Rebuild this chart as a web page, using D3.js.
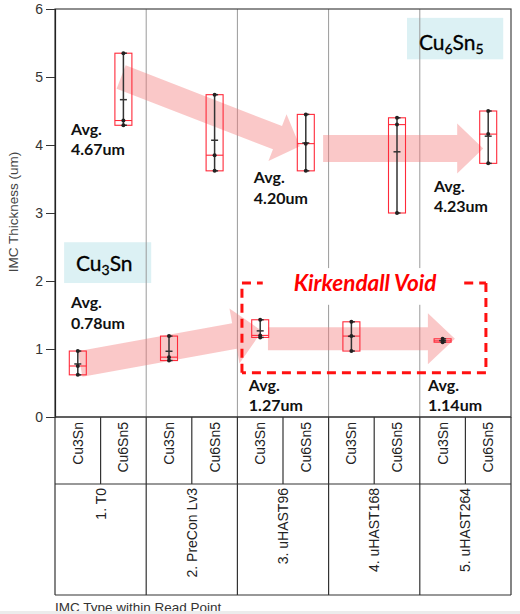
<!DOCTYPE html>
<html><head><meta charset="utf-8">
<script src="https://cdn.jsdelivr.net/npm/d3@7"></script>
<style>html,body{margin:0;padding:0;background:#fff;} svg{display:block}</style>
</head><body><svg id="c" width="520" height="614"></svg>
<script>
// ---------- data ----------
const groups = ["1. T0", "2. PreCon Lv3", "3. uHAST96", "4. uHAST168", "5. uHAST264"];
const types = ["Cu3Sn", "Cu6Sn5"];
const cu3snValues = [
  [0.97, 0.75, 0.62],
  [1.19, 0.88, 0.83],
  [1.43, 1.20, 1.17],
  [1.40, 1.19, 0.97],
  [1.15, 1.12, 1.10]
];
const cu6sn5Values = [
  [5.35, 4.36, 4.29],
  [4.74, 3.85, 3.62],
  [4.45, 4.02, 3.62],
  [4.40, 4.30, 3.00],
  [4.50, 4.16, 3.73]
];
const yTicks = [0, 1, 2, 3, 4, 5, 6];
const avgTexts = ["4.67um", "4.20um", "4.23um", "0.78um", "1.27um", "1.14um"];
const yTitle = "IMC Thickness (um)";
const xTitle = "IMC Type within Read Point";
const voidText = "Kirkendall Void";

// ---------- layout ----------
const L = 55, R = 511, T = 9, B = 417;
const row1 = 484, row2 = 595;
const svg = d3.select("#c");
const x0 = d3.scaleBand().domain(groups).range([L, R]).padding(0);
const x1 = d3.scaleBand().domain(types).range([0, x0.bandwidth()]).padding(0);
const y = d3.scaleLinear().domain([0, 6]).range([B, T]);
const col = d3.scaleLinear().domain([0, 10]).range([L, R]); // sub-column units for annotations

// legend boxes (under grid)
function legend(cx0, cx1, v0, v1) {
  svg.append("rect").attr("x", col(cx0)).attr("y", y(v1))
    .attr("width", col(cx1) - col(cx0)).attr("height", y(v0) - y(v1))
    .attr("fill", "#dcf1f4");
}
legend(0.2, 2.11, 1.97, 2.57);
legend(7.72, 9.83, 5.26, 5.87);

function legendText(px, py, parts) {
  const t = svg.append("text").attr("x", px).attr("y", py)
    .attr("font-family", "Lato, 'Open Sans', sans-serif").attr("font-size", 21).attr("fill", "#000")
    .attr("stroke", "#000").attr("stroke-width", 0.3);
  parts.forEach(p => {
    const s = t.append("tspan").text(p.t);
    if (p.sub) s.attr("font-size", 14).attr("dy", 4);
    else if (p.after) s.attr("dy", -4);
  });
}

// grid lines at group boundaries
const bounds = groups.slice(1).map(g => x0(g));
svg.selectAll(".grid").data(bounds).join("line")
  .attr("x1", d => d).attr("x2", d => d).attr("y1", T).attr("y2", B)
  .attr("stroke", "#9a9a9a").attr("stroke-width", 1);

// frame
svg.append("rect").attr("x", L).attr("y", T).attr("width", R - L).attr("height", B - T)
  .attr("fill", "none").attr("stroke", "#444").attr("stroke-width", 1.2);

// arrows
function arrow(c0, v0, c1, v1, w, hw, hl) {
  const sx = col(c0), sy = y(v0), ex = col(c1), ey = y(v1);
  const dx = ex - sx, dy = ey - sy, len = Math.hypot(dx, dy);
  const ux = dx / len, uy = dy / len, nx = -uy, ny = ux;
  const bx = ex - ux * hl, by = ey - uy * hl;
  const pts = [
    [sx + nx * w / 2, sy + ny * w / 2],
    [bx + nx * w / 2, by + ny * w / 2],
    [bx + nx * hw / 2, by + ny * hw / 2],
    [ex, ey],
    [bx - nx * hw / 2, by - ny * hw / 2],
    [bx - nx * w / 2, by - ny * w / 2],
    [sx - nx * w / 2, sy - ny * w / 2]
  ];
  svg.append("polygon").attr("points", pts.map(p => p.join(",")).join(" "))
    .attr("fill", "#f47c7c").attr("fill-opacity", 0.42);
}
arrow(1.45, 5.0, 5.37, 3.98, 25, 50, 24);
arrow(5.88, 3.95, 9.39, 3.95, 27, 50, 26);
arrow(0.55, 0.78, 4.54, 1.265, 26, 56, 28);
arrow(4.67, 1.15, 8.77, 1.15, 23, 51, 27);

// boxes
const series = [cu3snValues, cu6sn5Values];
const items = [];
groups.forEach((g, i) => types.forEach((t, j) => items.push({ g, t, vals: series[j][i] })));
const bw = 17;
items.forEach(d => {
  const cx = x0(d.g) + x1(d.t) + x1.bandwidth() / 2;
  const s = d.vals.slice().sort(d3.ascending);
  const mn = d3.min(s), mx = d3.max(s), md = d3.median(s), mean = d3.mean(s);
  const gg = svg.append("g");
  gg.append("rect").attr("x", cx - bw / 2).attr("y", y(mx)).attr("width", bw).attr("height", y(mn) - y(mx))
    .attr("fill", "none").attr("stroke", "#ff2a3a").attr("stroke-width", 1.1);
  gg.append("line").attr("x1", cx - bw / 2).attr("x2", cx + bw / 2).attr("y1", y(md)).attr("y2", y(md))
    .attr("stroke", "#ff2a3a").attr("stroke-width", 1.1);
  gg.append("line").attr("x1", cx).attr("x2", cx).attr("y1", y(mx)).attr("y2", y(mn))
    .attr("stroke", "#333").attr("stroke-width", 1.5);
  [mx, mn].forEach(v => gg.append("line").attr("x1", cx - 1).attr("x2", cx + 3.5)
    .attr("y1", y(v)).attr("y2", y(v)).attr("stroke", "#333").attr("stroke-width", 1.5));
  gg.append("line").attr("x1", cx - 3.5).attr("x2", cx + 3.5).attr("y1", y(mean)).attr("y2", y(mean))
    .attr("stroke", "#333").attr("stroke-width", 1.5);
  gg.selectAll("circle").data(s).join("circle").attr("cx", cx).attr("cy", v => y(v)).attr("r", 2)
    .attr("fill", "#222");
});

// Kirkendall annotation
svg.append("rect").attr("x", col(4.6)).attr("y", y(2.19)).attr("width", col(8.93) - col(4.6))
  .attr("height", y(1.65) - y(2.19)).attr("fill", "#fff");
const dx0 = col(4.1), dx1 = col(9.45), dy0 = y(1.97), dy1 = y(0.65);
const dash = { stroke: "#ff1010", w: 3, da: "9,6" };
function dl(x1_, y1_, x2_, y2_) {
  svg.append("line").attr("x1", x1_).attr("y1", y1_).attr("x2", x2_).attr("y2", y2_)
    .attr("stroke", dash.stroke).attr("stroke-width", dash.w).attr("stroke-dasharray", dash.da);
}
dl(dx0, dy0, col(4.6) - 2, dy0);
dl(col(8.93) + 2, dy0, dx1, dy0);
dl(dx1, dy0, dx1, dy1);
dl(dx1, dy1, dx0, dy1);
dl(dx0, dy1, dx0, dy0);
svg.append("text").attr("x", col(6.8)).attr("y", y(1.86)).attr("text-anchor", "middle")
  .attr("font-family", "Lato, 'Open Sans', sans-serif").attr("font-weight", 700).attr("font-style", "italic")
  .attr("font-size", 22.5).attr("fill", "#ff0000").text(voidText);

// legend texts
legendText(col(0.46), y(2.15), [{ t: "Cu" }, { t: "3", sub: true }, { t: "Sn", after: true }]);
legendText(col(7.98), y(5.40), [{ t: "Cu" }, { t: "6", sub: true }, { t: "Sn", after: true }, { t: "5", sub: true }]);

// Avg labels
const avgPos = [[0.35, 4.15], [4.36, 3.44], [8.31, 3.31], [0.35, 1.60], [4.25, 0.385], [8.18, 0.385]];
avgTexts.forEach((t, i) => {
  const tx = svg.append("text").attr("x", col(avgPos[i][0])).attr("y", y(avgPos[i][1]))
    .attr("font-family", "Lato, 'Open Sans', sans-serif").attr("font-weight", 700)
    .attr("font-size", 16).attr("fill", "#111");
  tx.append("tspan").text("Avg.");
  tx.append("tspan").attr("x", col(avgPos[i][0])).attr("dy", 20.5).text(t);
});

// y axis
const yAxis = svg.append("g").attr("transform", `translate(${L},0)`)
  .call(d3.axisLeft(y).tickValues(yTicks).tickFormat(d3.format("d")).tickSize(9).tickPadding(3));
yAxis.select(".domain").attr("stroke", "#222").attr("stroke-width", 1.2);
yAxis.selectAll(".tick line").attr("stroke", "#333");
yAxis.selectAll(".tick text").attr("font-family", "'Liberation Sans', Arial, sans-serif")
  .attr("font-size", 14).attr("fill", "#333");
svg.append("text").attr("transform", `translate(18,${212}) rotate(-90)`).attr("text-anchor", "middle")
  .attr("font-family", "'Liberation Sans', Arial, sans-serif").attr("font-size", 13.5).attr("fill", "#444")
  .text(yTitle);

// x table
const tbl = svg.append("g").attr("stroke", "#333").attr("stroke-width", 1.2);
tbl.append("line").attr("x1", L).attr("x2", R).attr("y1", B).attr("y2", B);
tbl.append("line").attr("x1", L).attr("x2", R).attr("y1", row1).attr("y2", row1);
tbl.append("line").attr("x1", L).attr("x2", R).attr("y1", row2).attr("y2", row2);
[L, ...bounds, R].forEach(bx => tbl.append("line").attr("x1", bx).attr("x2", bx).attr("y1", B).attr("y2", row2));
groups.forEach(g => {
  const mx = x0(g) + x1("Cu6Sn5");
  tbl.append("line").attr("x1", mx).attr("x2", mx).attr("y1", B).attr("y2", row1);
});
items.forEach(d => {
  const cx = x0(d.g) + x1(d.t) + x1.bandwidth() / 2;
  svg.append("text").attr("transform", `translate(${cx + 5},${B + 5}) rotate(-90)`)
    .attr("text-anchor", "end").attr("font-family", "'Liberation Sans', Arial, sans-serif")
    .attr("font-size", 14).attr("fill", "#222").text(d.t);
});
groups.forEach(g => {
  const cx = x0(g) + x0.bandwidth() / 2;
  svg.append("text").attr("transform", `translate(${cx + 5},${row1 + 4}) rotate(-90)`)
    .attr("text-anchor", "end").attr("font-family", "'Liberation Sans', Arial, sans-serif")
    .attr("font-size", 14).attr("fill", "#222").text(g);
});
svg.append("text").attr("x", L).attr("y", 612).attr("font-family", "'Liberation Sans', Arial, sans-serif")
  .attr("font-size", 13.5).attr("fill", "#333").text(xTitle);
svg.append("rect").attr("x", 0).attr("y", 611).attr("width", 520).attr("height", 3).attr("fill", "#ececec");
</script></body></html>
